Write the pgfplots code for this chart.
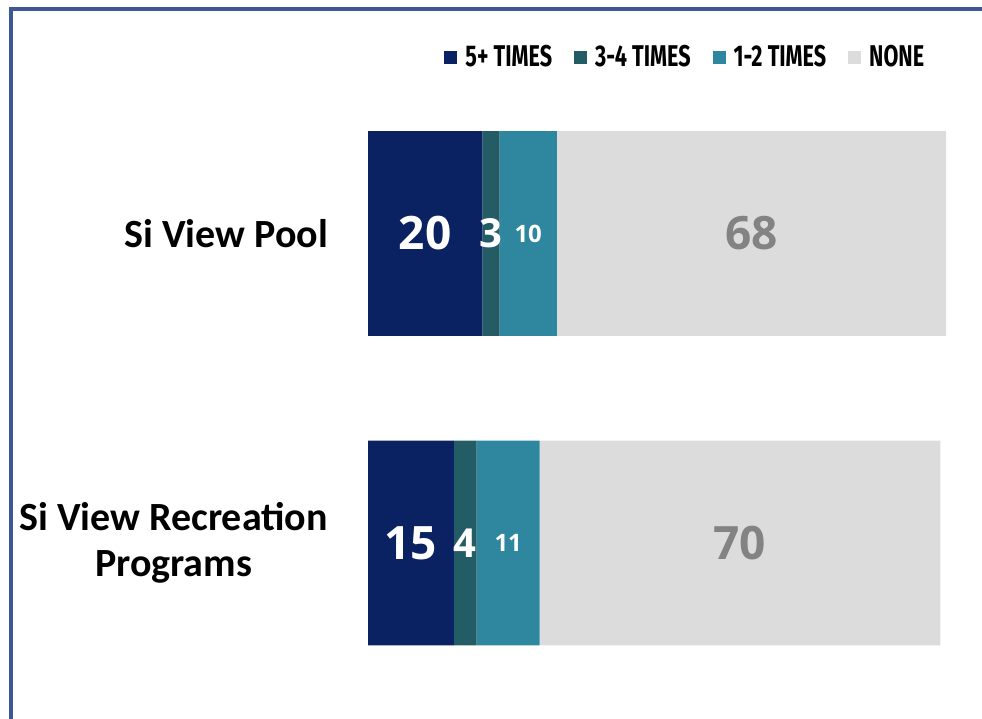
\documentclass[border=0pt]{standalone}
\usepackage{fontspec}
\setmainfont{Carlito}
\newfontfamily\numfont{Open Sans}
\newfontfamily\legfont[FakeStretch=0.72]{Fira Sans}
\usepackage{pgfplots}
\pgfplotsset{compat=1.18}
\definecolor{cA}{HTML}{0B2262}
\definecolor{cB}{HTML}{245C66}
\definecolor{cC}{HTML}{2E879F}
\definecolor{cD}{HTML}{DCDCDC}
\definecolor{frameblue}{HTML}{3D5894}
\definecolor{numgray}{HTML}{838383}
\begin{document}
\begin{tikzpicture}
\path[use as bounding box] (0pt,0pt) rectangle (982pt,719pt);
\draw[frameblue, line width=3.5pt] (11pt,0pt) -- (11pt,710pt) -- (982pt,710pt);
\begin{axis}[
 at={(368pt,21.25pt)}, anchor=south west,
 width=578pt, height=619pt, scale only axis,
 xbar stacked, bar width=0.662,
 xmin=0, xmax=101, ymin=-0.5, ymax=1.5,
 hide x axis,
 y axis line style={draw=none},
 ytick={0,1}, yticklabels={{Si View Recreation\\Programs},{Si View Pool}},
 major tick length=0pt,
 yticklabel style={font=\fontsize{40}{46}\selectfont\bfseries, align=center, anchor=east, inner xsep=0pt, xshift=-40pt},
 legend columns=4,
 legend style={draw=none, fill=none, at={(0.549,1.035)}, anchor=center,
   font=\legfont\bfseries\fontsize{30}{32}\selectfont,
   /tikz/every odd column/.append style={column sep=6pt},
   /tikz/every even column/.append style={column sep=20pt}},
 legend image code/.code={\fill[#1,draw=none] (0pt,-6.5pt) rectangle (13pt,6.5pt);},
]
\addplot[fill=cA, draw=none] coordinates {(15,0) (20,1)};
\addlegendentry{5+ TIMES}
\addplot[fill=cB, draw=none] coordinates {(4,0) (3,1)};
\addlegendentry{3-4 TIMES}
\addplot[fill=cC, draw=none] coordinates {(11,0) (10,1)};
\addlegendentry{1-2 TIMES}
\addplot[fill=cD, draw=none] coordinates {(70,0) (68,1)};
\addlegendentry{NONE}
\end{axis}
\begin{axis}[
 at={(368pt,21.25pt)}, anchor=south west,
 width=578pt, height=619pt, scale only axis,
 xmin=0, xmax=101, ymin=-0.5, ymax=1.5,
 hide axis,
 nodes near coords, point meta=explicit symbolic,
 every node near coord/.append style={anchor=center, inner sep=0pt},
]
\addplot[draw=none, mark=none, every node near coord/.append style={text=white, font=\numfont\bfseries\fontsize{46}{48}\selectfont}] coordinates {(7.5,0) [15] (10,1) [20]};
\addplot[draw=none, mark=none, every node near coord/.append style={text=white, font=\numfont\bfseries\fontsize{40}{44}\selectfont}] coordinates {(17,0) [4] (21.5,1) [3]};
\addplot[draw=none, mark=none, every node near coord/.append style={text=white, font=\numfont\bfseries\fontsize{24}{28}\selectfont}] coordinates {(24.5,0) [11] (28,1) [10]};
\addplot[draw=none, mark=none, every node near coord/.append style={text=numgray, font=\numfont\bfseries\fontsize{46}{48}\selectfont}] coordinates {(65,0) [70] (67,1) [68]};
\end{axis}
\end{tikzpicture}
\end{document}
